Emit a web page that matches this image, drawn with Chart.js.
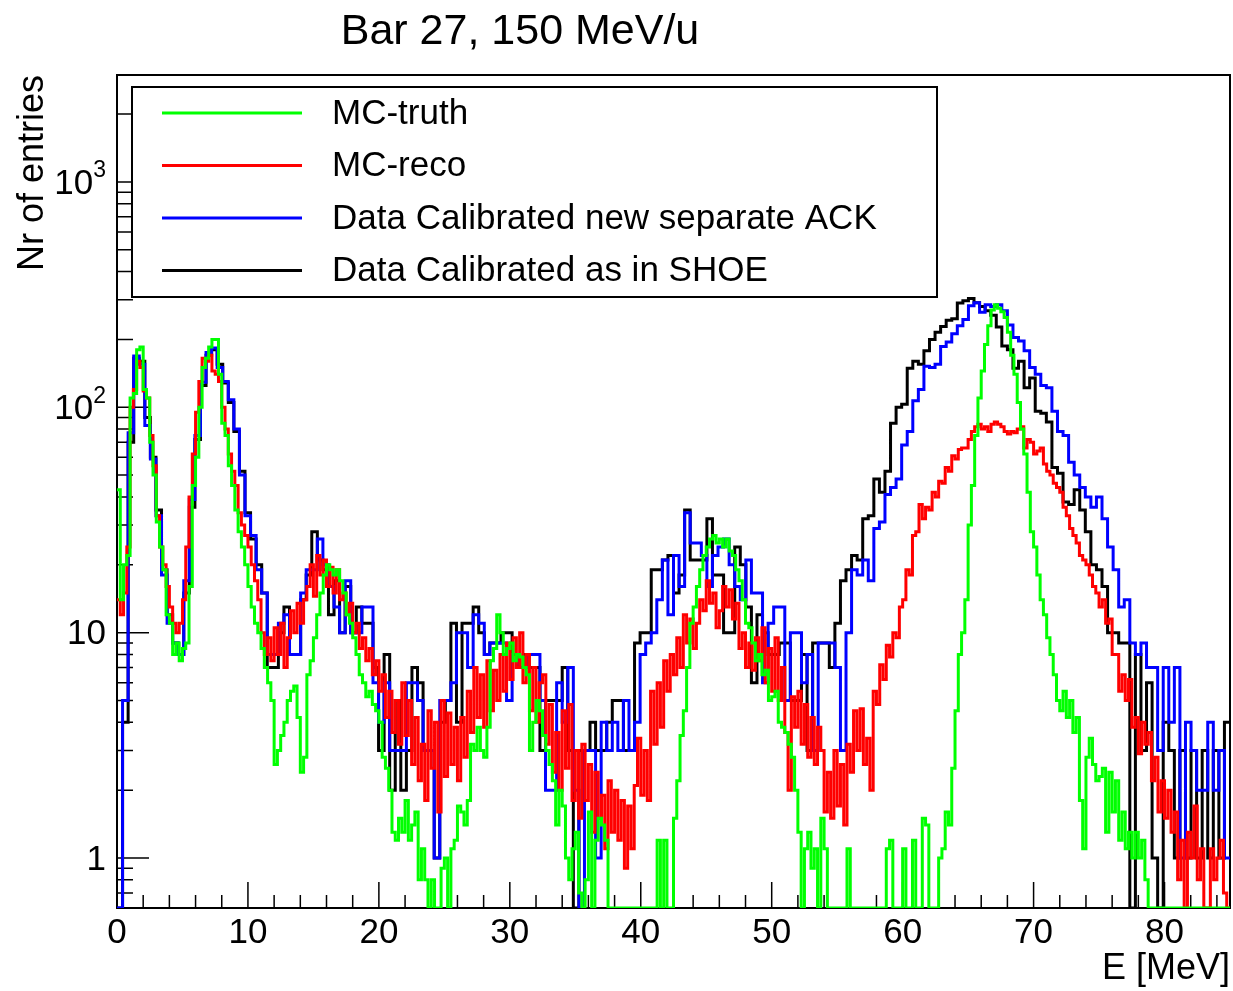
<!DOCTYPE html>
<html>
<head>
<meta charset="utf-8">
<script src="https://cdn.jsdelivr.net/npm/chart.js@4.4.1/dist/chart.umd.min.js"></script>
<style>
  html, body { margin: 0; background: #fff; }
  canvas { display: block; }
</style>
</head>
<body>
<canvas id="c" width="1233" height="991"></canvas>
<script>
"use strict";

// Bar 27, 150 MeV/u — energy spectra, log y. Data histograms: 200 bins of
// 0.425 MeV; MC histograms: 340 bins of 0.25 MeV.
const TITLE = "Bar 27, 150 MeV/u";
const X_TITLE = "E [MeV]";
const Y_TITLE = "Nr of entries";

const BIN_DATA = 0.425;
const BIN_MC = 0.25;

const SERIES_NAMES = [
  "MC-truth",
  "MC-reco",
  "Data Calibrated new separate ACK",
  "Data Calibrated as in SHOE",
];

// MC-truth, 0.25 MeV bins from 0
const mcTruth = [
  43, 14, 20, 22, 110, 115, 180, 185, 120, 110, 70, 50, 31, 24, 19, 12, 11, 8, 9, 7.5,
  8.5, 9, 16, 45, 60, 100, 150, 165, 185, 200, 200, 140, 85, 75, 55, 45, 35, 28, 24, 20,
  16, 13, 11, 10,
  8.5, 7, 6, 5, 2.6, 3, 3.5, 4, 5, 5.5, 5.8, 4.2, 2.4, 2.8, 6.5, 7.5, 9.5, 12, 15, 18,
  20, 19, 18, 19, 17, 15, 12, 11, 9.5, 8, 6.5, 6, 5.2, 5.5, 4.8, 4.5, 4, 2.8, 2.5, 2,
  1.3, 1.2, 1.5,
  1.3, 1.8, 1.2, 1.4, 1.6, 0.8, 1.1, 0.8, 0, 0.8, 0, 0, 0.9, 1, 0, 1.1, 1.2, 1.7, 1.6, 1.4,
  1.8, 3.2, 3, 3.8, 3, 2.8, 3.8, 7.5, 8.5, 12, 10, 8, 8.5, 9, 7.5, 8, 7.8, 7, 6.5, 3,
  4, 5, 4.5,
  3.5, 3, 2.6, 2.2, 1.4, 2, 1.7, 1, 0.8, 1.1, 1.3, 0.7, 0, 0.8, 1.6, 0, 1.2, 1.5, 1.4, 1.2,
  0, 0, 0, 0, 0, 0, 0, 0, 0, 0, 0, 0, 0, 0, 0, 1.2, 0, 1.2, 0, 0,
  1.5, 2.2, 3.5,
  4.5, 7, 11, 13, 16, 19, 22, 24, 26, 27, 25, 26, 24, 26, 23, 22, 19, 17, 14, 11,
  10.5, 9, 7.5, 8, 6.5, 6.8, 5, 5.2, 5.5, 4, 3.8, 3.6, 3.2, 2.8, 2, 1.3, 0, 1.1, 1.3, 0.9,
  1.1, 0,
  1.5, 1.1, 0, 0, 0, 0, 0, 0, 1.1, 0, 0, 0, 0, 0, 0, 0, 0, 0, 0, 0,
  1.1, 1.2, 0, 0, 0, 1.1, 0, 0, 1.2, 0, 0, 1.5, 1.4, 0, 0, 0, 1, 1.1, 1.6, 1.4,
  2.5, 4.5, 8,
  10, 14, 30, 45, 75, 110, 145, 190, 230, 270, 285, 275, 265, 250, 215, 170, 140, 105, 80, 62,
  42, 28, 24, 18, 14, 12, 9.5, 8, 6.5, 5, 4.5, 5.5, 4.2, 5, 3.6, 4.2, 1.8, 1.1, 2.8, 3.4,
  2.6, 2.2, 2.3,
  2.5, 1.3, 2.4, 1.6, 2.2, 1.2, 1.6, 1.1, 1.3, 1, 1.3, 1, 1.2, 0.8,
  0, 0, 0, 0, 0, 0, 0, 0, 0, 0, 0, 0, 0, 0, 0, 0, 0, 0, 0, 0, 0, 0, 0, 0, 0,
];

// MC-reco, 0.25 MeV bins from 0
const mcReco = [
  14, 12, 15, 24, 100, 120, 160, 150, 118, 110, 75, 55, 33, 24, 20, 16, 13, 11, 10, 11,
  14, 24, 40, 62, 95, 130, 165, 160, 170, 145, 140, 130, 100, 80, 62, 52, 45, 34, 30, 27,
  24, 20, 17, 14,
  10, 8, 9.5, 7.5, 10.5, 8, 11, 7, 9.5, 12.5, 10, 13.5, 11, 14, 16, 20, 14.5, 22, 18, 21,
  16, 19.5, 15, 19, 14, 15, 12, 13.5, 10, 11, 8.5, 9.5, 7.5, 8.5, 6.5, 7.5, 5.5, 6.5, 4.2, 5.5,
  3.6, 5, 3.2,
  6, 3.5, 5, 2.6, 4.2, 2.2, 3.2, 1.8, 4.5, 2.5, 4, 1.6, 5, 2.3, 4.4, 2.6, 3.8, 2.2, 4.2, 2.8,
  5.5, 3.6, 7, 4.2, 6.5, 3.8, 7.5, 4.5, 6.8, 5, 8, 5.5, 9, 6.2, 9.5, 7, 10, 6, 8, 4.5,
  7, 4, 6,
  6.5, 3.2, 4.8, 2.4, 3.6, 2, 4.5, 2.5, 4.8, 1.8, 3, 1.5, 3.2, 1.8, 2.6, 1.3, 2.4, 1.5, 1.9, 1.1,
  2.2, 1.3, 2, 1.2, 1.8, 0.9, 1.7, 1.1, 2.1, 3.4, 1.9, 3, 1.8, 5.5, 3.2, 6, 3.8, 7.5, 5.5, 8,
  6.5, 9.5, 7,
  12, 9, 11.5, 8.5, 11, 14, 12.5, 17, 13.5, 15, 10.5, 12.5, 16, 13, 15.5, 11.5, 13.5, 8.5, 10, 7,
  9, 6.8, 9.5, 7.5, 10.5, 6, 8.5, 5.5, 9.5, 5, 7, 3.6, 2, 5.2, 3.8, 5.5, 3.2, 4.8, 2.8, 4.2,
  2.6, 3.8,
  3, 1.6, 2.4, 1.5, 3, 1.7, 2.6, 1.4, 3.2, 2.4, 4.5, 3, 4.6, 2.6, 3.4, 2, 5.5, 4.8, 7.2, 6.2,
  8.8, 7.8, 10, 9.5, 13, 14, 19, 18, 27, 28, 37, 32, 36, 35, 42, 40, 47, 46, 54, 52,
  61, 59, 65,
  66, 66, 72, 78, 82, 84, 80, 82, 78, 84, 86, 84, 82, 78, 76, 78, 77, 80, 82, 66,
  72, 70, 62, 64, 66, 56, 52, 50, 46, 44, 42, 36, 33, 29, 27, 25, 22, 21, 20, 18,
  16, 15, 13,
  14, 11, 11.5, 8, 8, 5.5, 6.5, 5, 6.2, 3.8, 4.2, 2.9, 4, 3.2, 3.6, 2.2, 2.8, 1.6, 2.2, 1.5,
  2, 1.3, 1.6, 0.8, 1.2, 0, 1.3, 1, 1.7, 0.8, 1.1, 0, 0, 1.1, 0.8, 1, 1.2, 0.7, 0,
];

// Data, new separate ACK calibration, 0.425 MeV bins from 0
const dataNewAck = [
  0, 5, 77, 169, 155, 83, 59, 33, 18, 11, 9, 8, 17, 39, 75, 129, 175, 183, 150, 130,
  108, 80, 50, 33, 27, 19,
  15, 8, 8, 11, 12, 8, 8, 15, 19, 19, 26, 20, 16, 13, 10, 17, 10, 10, 13, 13, 6, 4, 6, 3, 3,
  3, 6, 6, 5, 3, 3, 1, 5, 5, 6, 10, 10, 7, 12, 11, 8, 9, 9, 9, 5, 8, 7, 7, 8, 8,
  5, 2, 2, 6, 4, 7, 2, 0, 3, 3, 1, 4, 3, 4, 3, 5, 3, 4, 8, 9, 10, 14, 21, 12, 22,
  16, 34, 25, 25, 22, 16, 22, 24, 26, 20, 16, 14, 21, 15, 15, 6, 11, 13, 13, 5, 10, 10, 6, 8, 3,
  9, 9, 9, 7, 3, 10, 19, 18, 21, 17, 29, 31, 41, 44, 48, 68, 78, 107, 120, 152,
  150, 155, 186, 195, 212,
  230, 245, 282, 291, 264, 285, 280, 285, 268, 232, 204, 197, 178, 150, 140, 125, 122, 96, 78, 75,
  57, 50, 44, 40, 36,
  40, 32, 24, 19, 13, 14, 9, 8, 9, 7, 7, 3, 7, 4, 7, 1, 4, 3, 2, 2, 4, 2, 3, 1,
];

// Data, calibrated as in SHOE, 0.425 MeV bins from 0
const dataShoe = [
  0, 4, 70, 165, 160, 90, 60, 35, 19, 12, 9, 8, 15, 36, 72, 125, 170, 180, 155, 128,
  105, 78, 52, 34, 26, 20,
  15, 7, 7, 10, 13, 8, 8, 14, 18, 28, 21, 19, 12, 17, 10, 16, 10, 13, 11, 11, 7, 3, 8, 2, 5,
  2, 3, 7, 6, 3, 3, 1, 4, 5, 11, 4, 11, 11, 13, 10, 8, 9, 9, 10, 10, 8, 7, 8, 7, 7,
  3, 5, 5, 5, 7, 3, 0, 3, 3, 4, 3, 3, 4, 5, 5, 3, 3, 9, 10, 10, 19, 19, 21, 22, 15,
  18, 35, 21, 21, 21, 32, 18, 18, 10, 10, 24, 20, 13, 6, 12, 10, 8, 8, 9, 9, 5, 5, 8, 3, 9,
  9, 9, 7, 11, 17, 19, 22, 21, 32, 33, 48, 42, 52, 85, 100, 103, 149, 160, 155, 178,
  200, 215, 228, 243, 247,
  290, 297, 304, 291, 280, 268, 256, 227, 187, 180, 149, 160, 122, 135, 96, 94, 86, 54, 51, 38,
  37, 43, 35, 28, 20,
  19, 16, 10, 10, 9, 9, 0, 8, 3, 6, 1, 0, 4, 3, 1, 3, 1, 3, 1, 3, 1, 3, 1, 4,
];

// Axis ranges and tick labels
const X_MIN = 0, X_MAX = 85;
const Y_MIN = 0.6, Y_MAX = 2980;
const X_TICKS = [0, 10, 20, 30, 40, 50, 60, 70, 80];
const X_MINOR_STEP = 2;
const Y_TICKS = [1, 10, 100, 1000];
const Y_TICK_BASE = ["1", "10", "10", "10"];
const Y_TICK_EXP = ["", "", "2", "3"];

const COLORS = ["#00ff00", "#ff0000", "#0000ff", "#000000"];
const FONT = "'Liberation Sans', Arial, Helvetica, sans-serif";

// Histogram → step points: one point per low edge, plus the last upper edge.
// Empty bins sit on the axis floor, as ROOT draws them.
function steps(values, width) {
  const pts = values.map((v, i) => ({ x: i * width, y: v > 0 ? v : Y_MIN }));
  pts.push({ x: values.length * width, y: pts[pts.length - 1].y });
  return pts;
}

// ROOT-style frame: inward ticks, box, labels, titles.
const rootFrame = {
  id: "rootFrame",
  beforeDatasetsDraw(chart) {
    const { ctx, chartArea: a, scales: { x, y } } = chart;
    ctx.save();
    ctx.strokeStyle = "#000";
    ctx.fillStyle = "#000";

    ctx.lineWidth = 1.5;
    ctx.beginPath();
    for (let e = X_MIN; e <= X_MAX; e += X_MINOR_STEP) {
      const px = x.getPixelForValue(e);
      const len = X_TICKS.includes(e) ? 26 : 13;
      ctx.moveTo(px, a.bottom);
      ctx.lineTo(px, a.bottom - len);
    }
    for (let p = 0.1; p <= Y_MAX; p *= 10) {
      for (let m = 1; m <= 9; m++) {
        const v = m * p;
        if (v < Y_MIN * 0.999 || v > Y_MAX) continue;
        const py = y.getPixelForValue(v);
        ctx.moveTo(a.left, py);
        ctx.lineTo(a.left + (m === 1 ? 32 : 16), py);
      }
    }
    ctx.stroke();

    ctx.lineWidth = 2;
    ctx.strokeRect(a.left, a.top, a.right - a.left, a.bottom - a.top);

    ctx.font = "35px " + FONT;
    ctx.textAlign = "center";
    ctx.textBaseline = "middle";
    for (const t of X_TICKS) {
      ctx.fillText(String(t), x.getPixelForValue(t), a.bottom + 25);
    }

    Y_TICKS.forEach((v, i) => {
      const py = y.getPixelForValue(v);
      let right = a.left - 11;
      ctx.textAlign = "right";
      if (Y_TICK_EXP[i]) {
        ctx.font = "23px " + FONT;
        ctx.fillText(Y_TICK_EXP[i], right, py - 11);
        right -= ctx.measureText(Y_TICK_EXP[i]).width;
      }
      ctx.font = "35px " + FONT;
      ctx.fillText(Y_TICK_BASE[i], right, py + 2);
    });

    ctx.font = "36px " + FONT;
    ctx.textAlign = "right";
    ctx.fillText(X_TITLE, a.right, a.bottom + 61);

    ctx.save();
    ctx.translate(33, a.top);
    ctx.rotate(-Math.PI / 2);
    ctx.textAlign = "right";
    ctx.fillText(Y_TITLE, 0, 0);
    ctx.restore();

    ctx.font = "43px " + FONT;
    ctx.textAlign = "center";
    ctx.fillText(TITLE, 520, 32);
    ctx.restore();
  },
  // Legend box sits over the data, as in the ROOT canvas.
  afterDatasetsDraw(chart) {
    const { ctx } = chart;
    const box = { x: 132, y: 87, w: 805, h: 210 };
    ctx.save();
    ctx.fillStyle = "#fff";
    ctx.fillRect(box.x, box.y, box.w, box.h);
    ctx.strokeStyle = "#000";
    ctx.lineWidth = 2;
    ctx.strokeRect(box.x, box.y, box.w, box.h);
    ctx.font = "35px " + FONT;
    ctx.textAlign = "left";
    ctx.textBaseline = "middle";
    chart.data.datasets.forEach((ds, i) => {
      const ly = 113 + i * 52.5;
      ctx.strokeStyle = ds.borderColor;
      ctx.lineWidth = 3;
      ctx.beginPath();
      ctx.moveTo(162, ly);
      ctx.lineTo(302, ly);
      ctx.stroke();
      ctx.fillStyle = "#000";
      ctx.fillText(ds.label, 332, ly + 1);
    });
    ctx.restore();
  },
};

const sources = [
  { values: mcTruth, width: BIN_MC },
  { values: mcReco, width: BIN_MC },
  { values: dataNewAck, width: BIN_DATA },
  { values: dataShoe, width: BIN_DATA },
];

new Chart(document.getElementById("c"), {
  type: "line",
  data: {
    datasets: sources.map((s, i) => ({
      label: SERIES_NAMES[i],
      data: steps(s.values, s.width),
      borderColor: COLORS[i],
      backgroundColor: COLORS[i],
      borderWidth: 3,
      stepped: "before",
      pointRadius: 0,
      fill: false,
      tension: 0,
      borderJoinStyle: "miter",
    })),
  },
  options: {
    responsive: false,
    animation: false,
    events: [],
    layout: { padding: { left: 117, right: 3, top: 75, bottom: 83 } },
    plugins: {
      legend: { display: false },
      tooltip: { enabled: false },
      title: { display: false },
    },
    scales: {
      x: { type: "linear", min: X_MIN, max: X_MAX, display: false },
      y: { type: "logarithmic", min: Y_MIN, max: Y_MAX, display: false },
    },
  },
  plugins: [rootFrame],
});
</script>
</body>
</html>
